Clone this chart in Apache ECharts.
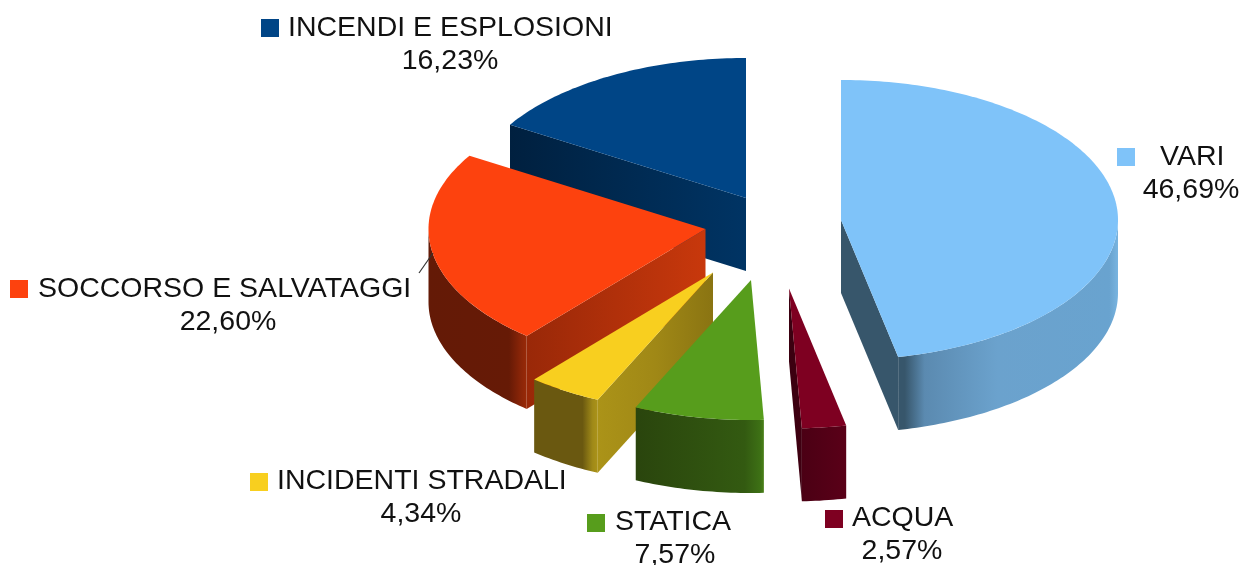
<!DOCTYPE html>
<html>
<head>
<meta charset="utf-8">
<style>html,body{margin:0;padding:0;background:#fff}#c{width:1242px;height:565px;filter:blur(0.5px)}</style>
<script src="https://cdn.jsdelivr.net/npm/echarts@6/dist/echarts.min.js"></script>
</head>
<body>
<div id="c"></div>
<script>
// Data, clockwise from 12 o'clock
const categories = ['VARI', 'ACQUA', 'STATICA', 'INCIDENTI STRADALI', 'SOCCORSO E SALVATAGGI', 'INCENDI E ESPLOSIONI'];
const shares = [46.69, 2.57, 7.57, 4.34, 22.60, 16.23];

// Presentation
const colors = ['#7fc3f9', '#7e0021', '#579d1c', '#f8cf1f', '#fd420e', '#004586'];
const apex = [[841, 220], [789, 288.5], [751, 280], [713, 272.5], [705.5, 229], [746, 198]];
const RX = 277, RY = 140, DEPTH = 73;
const wallStops = [
  [[0, '#37566b'], [0.03, '#37566b'], [0.12, '#5b8ab0'], [0.45, '#6ba2cd'], [0.96, '#69a3cf'], [1, '#78b4e0']],
  [[0, '#4b0014'], [1, '#5a0018']],
  [[0, '#2a450d'], [0.85, '#335a11'], [0.97, '#3d7015'], [1, '#4a8018']],
  [[0, '#6a5810'], [0.76, '#6a5810'], [0.92, '#a08a18'], [1, '#ab9318']],
  [[0, '#641a06'], [0.82, '#661a06'], [0.94, '#8a2508'], [1, '#992a08']],
  [[0, '#00213f'], [1, '#00213f']]
];
const faceStops = [
  [[0, '#37566b'], [1, '#37566b']],
  [[0, '#3a0010'], [1, '#3f0011']],
  [[0, '#333'], [1, '#333']],
  [[0, '#ab9318'], [0.5, '#a08816'], [1, '#8a7412']],
  [[0, '#992808'], [1, '#c8380c']],
  [[0, '#00203f'], [1, '#003464']]
];
const keyBox = [[1117, 148], [825, 510], [587, 514], [250, 473], [10, 280], [261, 19]];
const nameAt = [[1160, 157], [852, 518], [615, 522], [277, 481], [38, 289], [288, 28]];
const shareAt = [[1191, 190], [902, 551], [675, 555], [421, 514], [228, 322], [450, 61]];
const FONT = 'Liberation Sans';
const FS = 28.5;

function gradient(stops) {
  return new echarts.graphic.LinearGradient(0, 0, 1, 0, stops.map(s => ({offset: s[0], color: s[1]})));
}
function pt(c, deg, dz) {
  const a = deg * Math.PI / 180;
  return [c[0] + RX * Math.sin(a), c[1] - RY * Math.cos(a) + (dz || 0)];
}
function arc(c, from, to, dz) {
  const out = [], n = Math.max(2, Math.ceil(Math.abs(to - from)));
  for (let i = 0; i <= n; i++) out.push(pt(c, from + (to - from) * i / n, dz));
  return out;
}
function poly(points, fill, z2) {
  return {type: 'polygon', z2, shape: {points}, style: {fill, stroke: null}};
}

function renderItem(params, api) {
  const i = params.dataIndex;
  const value = api.value(0);
  const total = shares.reduce((a, b) => a + b, 0);
  const before = shares.slice(0, i).reduce((a, b) => a + b, 0);
  const a0 = before / total * 360, a1 = (before + value) / total * 360;
  const c = apex[i];
  const base = 100 - i * 10;
  const kids = [];
  const side = deg => {
    const p = pt(c, deg);
    return [[c[0], c[1]], p, [p[0], p[1] + DEPTH], [c[0], c[1] + DEPTH]];
  };
  // radial cut faces that look toward the viewer
  if (Math.sin(a0 * Math.PI / 180) < -1e-6) kids.push(poly(side(a0), gradient(faceStops[i]), base));
  if (Math.sin(a1 * Math.PI / 180) > 1e-6) kids.push(poly(side(a1), gradient(faceStops[i]), base));
  // rounded outer wall, front half only
  const w0 = Math.max(a0, 90), w1 = Math.min(a1, 270);
  if (w1 > w0) {
    const top = arc(c, w0, w1, 0), bot = arc(c, w1, w0, DEPTH);
    kids.push(poly(top.concat(bot), gradient(wallStops[i]), base + 1));
  }
  // top surface
  kids.push(poly([[c[0], c[1]]].concat(arc(c, a0, a1, 0)), colors[i], base + 2));
  // legend key and label
  kids.push({type: 'rect', z2: 200, shape: {x: keyBox[i][0], y: keyBox[i][1], width: 18, height: 18}, style: {fill: colors[i]}});
  const textStyle = {fill: '#111', fontFamily: FONT, fontSize: FS, textVerticalAlign: 'middle'};
  kids.push({type: 'text', z2: 200, x: nameAt[i][0], y: nameAt[i][1],
    style: Object.assign({text: categories[i], textAlign: 'left'}, textStyle)});
  kids.push({type: 'text', z2: 200, x: shareAt[i][0], y: shareAt[i][1],
    style: Object.assign({text: value.toFixed(2).replace('.', ',') + '%', textAlign: 'center'}, textStyle)});
  return {type: 'group', children: kids};
}

const chart = echarts.init(document.getElementById('c'), null, {renderer: 'canvas'});
chart.setOption({
  animation: false,
  backgroundColor: '#fff',
  series: [{
    type: 'custom',
    coordinateSystem: 'none',
    silent: true,
    renderItem,
    data: categories.map((name, i) => ({name, value: [shares[i]]}))
  }],
  graphic: [{
    type: 'line', silent: true, z: 10,
    shape: {x1: 419, y1: 273, x2: 433, y2: 253},
    style: {stroke: '#333', lineWidth: 1.2}
  }]
});
</script>
</body>
</html>
